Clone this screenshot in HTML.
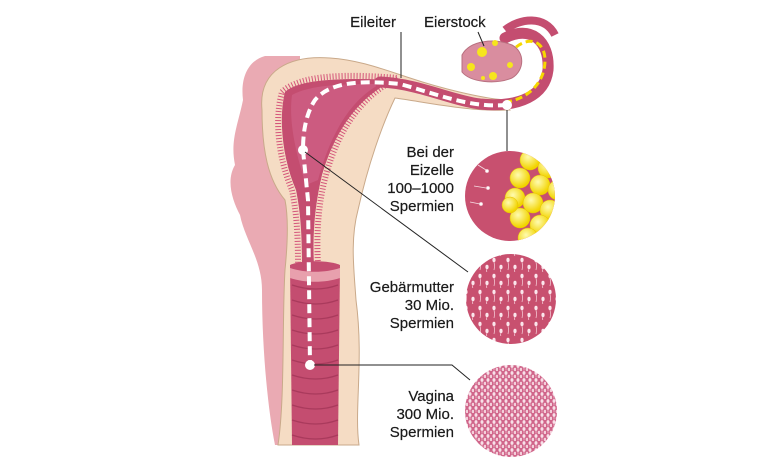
<!DOCTYPE html>
<html><head><meta charset="utf-8"><style>
html,body{margin:0;padding:0;background:#fff;}
svg{display:block;}
text{font-family:"Liberation Sans",sans-serif;font-size:15px;fill:#1a1a1a;stroke:#1a1a1a;stroke-width:0.2;}
</style></head><body>
<svg width="770" height="460" viewBox="0 0 770 460" xmlns="http://www.w3.org/2000/svg">
<defs>
<pattern id="sp1" width="14" height="16" patternUnits="userSpaceOnUse">
<rect width="14" height="16" fill="#c8506f"/>
<ellipse cx="4" cy="4" rx="1.6" ry="2.2" fill="#fbe6ec"/><path d="M4,6 q1,4 0,8" stroke="#f3c4d0" stroke-width="0.8" fill="none"/>
<ellipse cx="11" cy="11" rx="1.6" ry="2.2" fill="#fbe6ec"/><path d="M11,13 q-1,2 0,3" stroke="#f3c4d0" stroke-width="0.8" fill="none"/>
</pattern>
<pattern id="sp2" width="6" height="7" patternUnits="userSpaceOnUse">
<rect width="6" height="7" fill="#d0658a"/>
<ellipse cx="2" cy="2" rx="1.5" ry="1.9" fill="#f8e0e8"/>
<ellipse cx="5" cy="5.5" rx="1.3" ry="1.7" fill="#f4d0db"/>
<path d="M2,3.5 v3" stroke="#f1c8d5" stroke-width="0.7"/>
</pattern>
<radialGradient id="yb" cx="40%" cy="35%" r="60%"><stop offset="0" stop-color="#fffbb0"/><stop offset="1" stop-color="#f2d400"/></radialGradient>
<clipPath id="c1"><circle cx="510" cy="196" r="45"/></clipPath>
</defs>

<path d="M265,56 C250,60 240,75 243,100 C238,125 230,140 235,165 C226,180 232,200 240,215 C245,240 262,260 262,290 C262,350 268,410 275,445 L300,445 L300,56 Z" fill="#eaaab3"/>
<path d="M262,110 C258,70 290,55 330,58 C360,60 385,70 410,78 C440,88 480,98 505,100 L510,110 C470,112 425,102 395,98 C382,125 368,165 358,210 C350,240 354,270 356,300 C364,360 354,410 359,445 L278,445 C285,400 282,320 285,270 C288,240 288,215 285,200 C268,180 262,150 262,110 Z" fill="#f5dcc4" stroke="#c9a98a" stroke-width="1"/>
<path d="M282,92 C300,74 350,74 398,78 C362,95 338,130 326,175 C319,200 316,230 318,265 L298,265 C298,230 296,210 292,190 C279,160 274,120 282,92 Z" fill="none" stroke="#d4557a" stroke-width="6" stroke-dasharray="1,2"/>
<path d="M285,92 C300,78 350,78 395,80 C360,95 335,130 322,175 C316,200 312,230 314,265 L302,265 C302,230 300,210 296,190 C283,160 278,120 285,92 Z" fill="#c44d70"/>
<path d="M292,95 C310,85 340,84 380,84 C350,100 330,135 318,180 L306,185 C298,160 288,125 292,95Z" fill="#d2668a" opacity="0.6"/>
<path d="M380,82 C420,84 450,100 480,104 C520,108 545,95 548,70 C550,40 530,25 505,38" fill="none" stroke="#c44d70" stroke-width="11" stroke-linecap="round"/>
<path d="M505,30 C520,18 545,15 555,35" fill="none" stroke="#c44d70" stroke-width="8"/>
<path d="M462,55 C470,40 495,38 512,45 C525,52 525,70 512,78 C495,85 470,82 462,72 Z" fill="#d98d9f" stroke="#b8707f"/>
<circle cx="482" cy="52" r="5" fill="#f6e51d"/><circle cx="471" cy="67" r="4" fill="#f6e51d"/>
<circle cx="493" cy="76" r="4" fill="#f6e51d"/><circle cx="510" cy="65" r="3" fill="#f6e51d"/>
<circle cx="495" cy="43" r="3" fill="#f6e51d"/><circle cx="483" cy="78" r="2" fill="#f6e51d"/>
<path d="M505,102 C525,100 545,85 545,60 C545,42 530,35 515,48" fill="none" stroke="#f6d800" stroke-width="3" stroke-dasharray="7,4"/>
<path d="M290,265 C300,260 330,260 340,265 L338,445 L292,445 Z" fill="#c44d70"/>
<g stroke="#a93a5c" stroke-width="1.2" fill="none">
<path d="M292,285 q24,8 46,0"/><path d="M292,300 q24,8 46,0"/><path d="M292,315 q24,8 46,0"/><path d="M292,330 q24,8 46,0"/><path d="M292,345 q24,8 46,0"/><path d="M292,360 q24,8 46,0"/><path d="M292,375 q24,8 46,0"/><path d="M292,390 q24,8 46,0"/><path d="M292,405 q24,8 46,0"/><path d="M292,420 q24,8 46,0"/><path d="M292,435 q24,8 46,0"/>
</g>
<path d="M290,268 C305,273 325,273 340,268 L340,278 C325,283 305,283 290,278Z" fill="#e8a0ad"/>
<path d="M507,105 C470,108 440,95 400,84 C360,80 330,82 315,100 C305,115 303,135 303,150 L308,200 L310,365" fill="none" stroke="#fff" stroke-width="4" stroke-dasharray="9,5"/>
<circle cx="303" cy="150" r="5" fill="#fff"/><circle cx="310" cy="365" r="5" fill="#fff"/><circle cx="507" cy="105" r="5" fill="#fff"/>
<g stroke="#222" stroke-width="1" fill="none">
<path d="M401,32 V78"/><path d="M478,32 L484,46"/><path d="M507,110 V151"/>
<path d="M305,152 L468,272"/><path d="M314,365 H452 L470,380"/>
</g>
<g clip-path="url(#c1)">
<rect x="465" y="150" width="90" height="92" fill="#c8506f"/>
<g fill="url(#yb)" stroke="#e6c200" stroke-width="0.5">
<circle cx="530" cy="160" r="10"/><circle cx="548" cy="168" r="10"/><circle cx="520" cy="178" r="10"/><circle cx="540" cy="185" r="10"/><circle cx="558" cy="190" r="10"/><circle cx="515" cy="198" r="10"/><circle cx="533" cy="203" r="10"/><circle cx="550" cy="210" r="10"/><circle cx="520" cy="218" r="10"/><circle cx="540" cy="225" r="10"/><circle cx="528" cy="238" r="10"/><circle cx="510" cy="205" r="8"/>
</g>
<g stroke="#f6dde4" stroke-width="0.8" fill="#fff"><path d="M478,165 l8,5"/><circle cx="487" cy="171" r="1.5"/><path d="M474,186 l12,2"/><circle cx="488" cy="188" r="1.5"/><path d="M470,202 l10,2"/><circle cx="481" cy="204" r="1.5"/></g>
</g>
<circle cx="511" cy="299" r="45" fill="url(#sp1)"/>
<circle cx="511" cy="411" r="46" fill="url(#sp2)"/>
<text x="396" y="27" text-anchor="end">Eileiter</text>
<text x="424" y="27">Eierstock</text>
<g text-anchor="end">
<text x="454" y="157">Bei der</text><text x="454" y="175">Eizelle</text><text x="454" y="193">100–1000</text><text x="454" y="211">Spermien</text>
<text x="454" y="292">Gebärmutter</text><text x="454" y="310">30 Mio.</text><text x="454" y="328">Spermien</text>
<text x="454" y="401">Vagina</text><text x="454" y="419">300 Mio.</text><text x="454" y="437">Spermien</text>
</g>
</svg>
</body></html>
